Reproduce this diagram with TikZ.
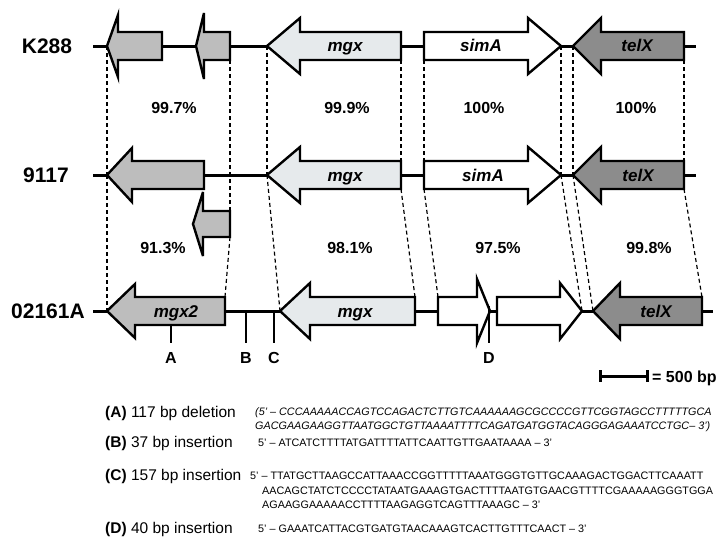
\documentclass[tikz,border=0pt]{standalone}
\usepackage{fontspec}
\setmainfont{Liberation Sans}
\definecolor{gA}{HTML}{BDBDBD}
\definecolor{mgxc}{HTML}{E6EAEC}
\definecolor{telc}{HTML}{8C8C8C}
\newcommand{\geneleft}[7]{% tip, headback, right, y, bodyhalf, headhalf, fill
  \draw[gene, fill=#7] (#1,#4) -- (#2,{#4-#6}) -- (#2,{#4-#5}) -- (#3,{#4-#5}) -- (#3,{#4+#5}) -- (#2,{#4+#5}) -- (#2,{#4+#6}) -- cycle;}
\newcommand{\generight}[7]{% left, headback, tip, y, bodyhalf, headhalf, fill
  \draw[gene, fill=#7] (#3,#4) -- (#2,{#4-#6}) -- (#2,{#4-#5}) -- (#1,{#4-#5}) -- (#1,{#4+#5}) -- (#2,{#4+#5}) -- (#2,{#4+#6}) -- cycle;}
\begin{document}
\begin{tikzpicture}[x=1pt,y=-1pt,
  gene/.style={draw=black, line width=2.4pt, line join=miter, miter limit=6},
  backbone/.style={line width=3pt},
  simline/.style={line width=1.2pt, dash pattern=on 4pt off 3pt},
  tickline/.style={line width=1.5pt},
  strain/.style={anchor=base, inner sep=0pt, font=\bfseries\fontsize{21}{24}\selectfont},
  genelab/.style={anchor=base, inner sep=0pt, font=\bfseries\itshape\fontsize{17}{20}\selectfont},
  pct/.style={anchor=base, inner sep=0pt, font=\bfseries\fontsize{16}{19}\selectfont},
  site/.style={anchor=base, inner sep=0pt, font=\bfseries\fontsize{16}{19}\selectfont},
  lab/.style={anchor=base west, inner sep=0pt, font=\fontsize{15.5}{18}\selectfont},
  seq/.style={anchor=base west, inner sep=0pt, font=\fontsize{10.8}{13}\selectfont},
  seqit/.style={anchor=base west, inner sep=0pt, font=\itshape\fontsize{10.8}{13}\selectfont},
]
\fill[white] (0,0) rectangle (716,538);
\useasboundingbox (0,0) rectangle (716,538);

% coordinates for similarity connectors
\coordinate (k1) at (107,46);  \coordinate (k2) at (230,60);  \coordinate (k3) at (267,46);  \coordinate (k4) at (401,60);
\coordinate (k5) at (424,60);  \coordinate (k6) at (561,46);  \coordinate (k7) at (573,46);  \coordinate (k8) at (684,60);
\coordinate (n1t) at (107,175); \coordinate (n2t) at (230,211); \coordinate (n3t) at (267,175); \coordinate (n4t) at (401,161);
\coordinate (n5t) at (424,161); \coordinate (n6t) at (561,175); \coordinate (n7t) at (573,175); \coordinate (n8t) at (684,161);
\coordinate (n1b) at (107,175); \coordinate (n2b) at (230,237); \coordinate (n3b) at (267,175); \coordinate (n4b) at (401,189);
\coordinate (n5b) at (424,189); \coordinate (n6b) at (561,175); \coordinate (n7b) at (573,175); \coordinate (n8b) at (684,189);
\coordinate (m1) at (107,311); \coordinate (m2) at (225,297); \coordinate (m3) at (280,311); \coordinate (m4) at (415,297);
\coordinate (m5) at (438,297); \coordinate (m6) at (582,311); \coordinate (m7) at (593,311); \coordinate (m8) at (702,297);

\foreach \i in {1,...,8} {
  \draw[simline] (k\i) -- (n\i t);
  \draw[simline] (n\i b) -- (m\i);
}

% backbones
\coordinate (r1s) at (93,46);  \coordinate (r1e) at (696,46);
\coordinate (r2s) at (93,175); \coordinate (r2e) at (696,175);
\coordinate (r3s) at (93,311); \coordinate (r3e) at (713,311);
\draw[backbone] (r1s) -- (r1e);
\draw[backbone] (r2s) -- (r2e);
\draw[backbone] (r3s) -- (r3e);

% row 1 : K288
\geneleft{107}{118}{162}{46}{14}{31}{gA}
\geneleft{196}{204}{230}{46}{14}{33}{gA}
\geneleft{267}{300}{401}{46}{14}{28}{mgxc}
\generight{424}{528}{561}{46}{14}{28}{white}
\geneleft{573}{601}{684}{46}{14}{28}{telc}

% row 2 : 9117
\geneleft{107}{132}{204}{175}{14}{27}{gA}
\geneleft{193}{203}{230}{224}{13}{32}{gA}
\geneleft{267}{300}{401}{175}{14}{28}{mgxc}
\generight{424}{528}{561}{175}{14}{28}{white}
\geneleft{573}{601}{684}{175}{14}{28}{telc}

% row 3 : 02161A
\geneleft{107}{135}{225}{311}{14}{27}{gA}
\geneleft{280}{310}{415}{311}{14}{28}{mgxc}
\generight{438}{477}{490}{311}{14}{32}{white}
\generight{497}{560}{582}{311}{14}{28}{white}
\geneleft{593}{620}{702}{311}{14}{28}{telc}

% strain labels
\node[strain] (sK) at (47,53.5) {K288};
\node[strain] (s9) at (46,182.5) {9117};
\node[strain] (s0) at (48,318.5) {02161A};

% gene labels
\node[genelab] (g1) at (345,52) {mgx};
\node[genelab] (g2) at (481,52) {simA};
\node[genelab] (g3) at (637,52) {telX};
\node[genelab] (g4) at (345,181) {mgx};
\node[genelab] (g5) at (483,181) {simA};
\node[genelab] (g6) at (638,181) {telX};
\node[genelab] (g7) at (176,317) {mgx2};
\node[genelab] (g8) at (355,317) {mgx};
\node[genelab] (g9) at (656,317) {telX};

% identities
\node[pct] (p1) at (174,113) {99.7\%};
\node[pct] (p2) at (347,113) {99.9\%};
\node[pct] (p3) at (484,113) {100\%};
\node[pct] (p4) at (636,113) {100\%};
\node[pct] (p5) at (163,253) {91.3\%};
\node[pct] (p6) at (350,253) {98.1\%};
\node[pct] (p7) at (498,253) {97.5\%};
\node[pct] (p8) at (649,253) {99.8\%};

% sites
\node[site] (sA) at (171,363) {A};
\node[site] (sB) at (246,363) {B};
\node[site] (sC) at (274,363) {C};
\node[site] (sD) at (489,363) {D};
\coordinate (tA) at (171,325); \coordinate (tB) at (246,311); \coordinate (tC) at (274,311); \coordinate (tD) at (489,306);
\coordinate (eA) at (171,343); \coordinate (eB) at (246,343); \coordinate (eC) at (274,343); \coordinate (eD) at (489,343);
\draw[tickline] (tA) -- (eA);
\draw[tickline] (tB) -- (eB);
\draw[tickline] (tC) -- (eC);
\draw[tickline] (tD) -- (eD);

% scale bar
\coordinate (sb1) at (600,376); \coordinate (sb2) at (647,376);
\draw[line width=3pt] (sb1) -- (sb2);
\draw[line width=3pt] (600,370) -- (600,382);
\draw[line width=3pt] (647,370) -- (647,382);
\node[anchor=base west, inner sep=0pt, font=\bfseries\fontsize{16}{19}\selectfont] (sbt) at (652,382) {= 500 bp};

% sequence table
\node[lab] (la) at (105,417) {\textbf{(A)} 117 bp deletion};
\node[seqit] (qa1) at (255,415) {(5’ – CCCAAAAACCAGTCCAGACTCTTGTCAAAAAAGCGCCCCGTTCGGTAGCCTTTTTGCA};
\node[seqit] (qa2) at (255,429) {GACGAAGAAGGTTAATGGCTGTTAAAATTTTCAGATGATGGTACAGGGAGAAATCCTGC– 3’)};
\node[lab] (lb) at (105,447) {\textbf{(B)} 37 bp insertion};
\node[seq] (qb) at (258,446) {5’ – ATCATCTTTTATGATTTTATTCAATTGTTGAATAAAA – 3’};
\node[lab] (lc) at (105,480) {\textbf{(C)} 157 bp insertion};
\node[seq] (qc1) at (250,479) {5’ – TTATGCTTAAGCCATTAAACCGGTTTTTAAATGGGTGTTGCAAAGACTGGACTTCAAATT};
\node[seq] (qc2) at (262,494) {AACAGCTATCTCCCCTATAATGAAAGTGACTTTTAATGTGAACGTTTTCGAAAAAGGGTGGA};
\node[seq] (qc3) at (262,508) {AGAAGGAAAAACCTTTTAAGAGGTCAGTTTAAAGC – 3’};
\node[lab] (ld) at (105,533) {\textbf{(D)} 40 bp insertion};
\node[seq] (qd) at (258,532) {5’ – GAAATCATTACGTGATGTAACAAAGTCACTTGTTTCAACT – 3’};
\end{tikzpicture}
\end{document}
